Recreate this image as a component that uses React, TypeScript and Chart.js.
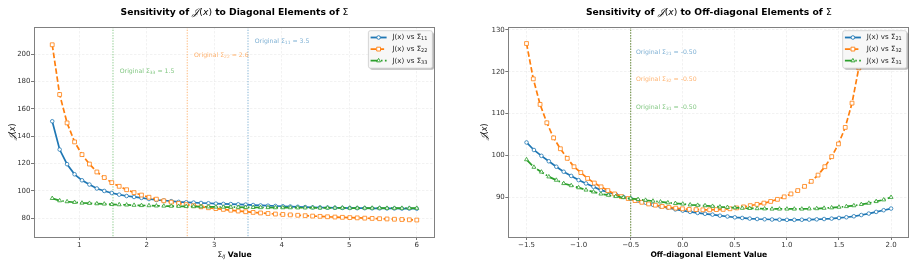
import React, { useEffect, useRef } from "react";
import { Chart, registerables } from "chart.js";
Chart.register(...registerables);

// ---------------- data ----------------
const diagX = [0.600, 0.710, 0.820, 0.931, 1.041, 1.151, 1.261, 1.371, 1.482, 1.592, 1.702, 1.812, 1.922, 2.033, 2.143, 2.253, 2.363, 2.473, 2.584, 2.694, 2.804, 2.914, 3.024, 3.135, 3.245, 3.355, 3.465, 3.576, 3.686, 3.796, 3.906, 4.016, 4.127, 4.237, 4.347, 4.457, 4.567, 4.678, 4.788, 4.898, 5.008, 5.118, 5.229, 5.339, 5.449, 5.559, 5.669, 5.780, 5.890, 6.000];
const diagJ11 = [151, 130.3, 119.6, 112.2, 107.8, 104.7, 101.8, 100.0, 98.5, 97.3, 96.3, 95.6, 94.9, 94.1, 93.4, 93.0, 92.5, 92.0, 91.7, 91.5, 91.2, 91.0, 90.7, 90.5, 90.4, 90.2, 90.0, 89.7, 89.4, 89.2, 89.0, 88.8, 88.6, 88.4, 88.2, 88.0, 87.9, 87.8, 87.7, 87.6, 87.5, 87.4, 87.4, 87.3, 87.3, 87.2, 87.2, 87.1, 87.1, 87.0];
const diagJ22 = [207, 170.6, 149.8, 135.9, 126.6, 119.7, 113.9, 109.8, 106.1, 103.4, 100.9, 98.8, 97.0, 95.4, 94.0, 92.8, 91.8, 90.9, 90.0, 89.2, 88.4, 87.7, 87.1, 86.5, 85.9, 85.3, 84.8, 84.3, 83.9, 83.5, 83.1, 82.8, 82.5, 82.2, 81.9, 81.6, 81.4, 81.1, 80.9, 80.7, 80.5, 80.3, 80.1, 79.9, 79.7, 79.5, 79.3, 79.1, 78.9, 78.7];
const diagJ33 = [94.6, 92.9, 92.2, 91.7, 91.2, 91.0, 90.7, 90.5, 90.2, 90.0, 89.8, 89.6, 89.4, 89.3, 89.1, 89.0, 88.9, 88.8, 88.7, 88.6, 88.5, 88.4, 88.3, 88.2, 88.2, 88.1, 88.0, 88.0, 87.9, 87.9, 87.8, 87.8, 87.8, 87.7, 87.7, 87.7, 87.6, 87.6, 87.6, 87.6, 87.5, 87.5, 87.5, 87.5, 87.5, 87.4, 87.4, 87.4, 87.4, 87.4];

const offX = [-1.500, -1.429, -1.357, -1.286, -1.214, -1.143, -1.071, -1.000, -0.929, -0.857, -0.786, -0.714, -0.643, -0.571, -0.500, -0.429, -0.357, -0.286, -0.214, -0.143, -0.071, 0.000, 0.071, 0.143, 0.214, 0.286, 0.357, 0.429, 0.500, 0.571, 0.643, 0.714, 0.786, 0.857, 0.929, 1.000, 1.071, 1.143, 1.214, 1.286, 1.357, 1.429, 1.500, 1.571, 1.643, 1.714, 1.786, 1.857, 1.929, 2.000];
const offX32 = [-1.500, -1.435, -1.370, -1.305, -1.240, -1.175, -1.109, -1.044, -0.979, -0.914, -0.849, -0.784, -0.719, -0.654, -0.589, -0.524, -0.458, -0.393, -0.328, -0.263, -0.198, -0.133, -0.068, -0.003, 0.062, 0.128, 0.193, 0.258, 0.323, 0.388, 0.453, 0.518, 0.583, 0.648, 0.713, 0.779, 0.844, 0.909, 0.974, 1.039, 1.104, 1.169, 1.234, 1.299, 1.364, 1.430, 1.495, 1.560, 1.625, 1.690];
const offJ21 = [103.1, 101.3, 99.9, 98.6, 97.3, 96.1, 95.1, 94.1, 93.3, 92.5, 91.7, 91.2, 90.7, 90.1, 89.7, 89.2, 88.7, 88.2, 87.8, 87.5, 87.1, 86.8, 86.5, 86.25, 86.05, 85.85, 85.6, 85.4, 85.2, 85.05, 84.9, 84.8, 84.74, 84.68, 84.64, 84.6, 84.6, 84.62, 84.66, 84.72, 84.8, 84.9, 85.05, 85.22, 85.45, 85.75, 86.1, 86.5, 86.9, 87.3];
const offJ32 = [126.75, 118.3, 112.2, 107.8, 104.2, 101.6, 99.3, 97.3, 95.9, 94.5, 93.4, 92.5, 91.6, 90.8, 90.15, 89.7, 89.2, 88.8, 88.4, 88.1, 87.8, 87.6, 87.4, 87.25, 87.1, 87.05, 87.0, 87.0, 87.05, 87.1, 87.25, 87.45, 87.7, 88.0, 88.3, 88.6, 89.0, 89.5, 90.1, 90.8, 91.6, 92.6, 93.8, 95.3, 97.3, 99.7, 102.75, 106.7, 112.5, 120.9];
const offJ31 = [99.0, 97.2, 96.05, 94.9, 94.1, 93.3, 92.8, 92.3, 91.75, 91.3, 90.8, 90.5, 90.2, 89.95, 89.7, 89.5, 89.3, 89.1, 88.9, 88.7, 88.55, 88.4, 88.2, 88.1, 88.0, 87.85, 87.7, 87.6, 87.5, 87.4, 87.35, 87.3, 87.25, 87.2, 87.2, 87.2, 87.2, 87.2, 87.25, 87.3, 87.4, 87.5, 87.65, 87.8, 88.0, 88.3, 88.6, 89.0, 89.4, 90.0];

const diagTicksX = [1, 2, 3, 4, 5, 6];
const diagTicksY = [80, 100, 120, 140, 160, 180, 200];
const offTicksX = [-1.5, -1.0, -0.5, 0.0, 0.5, 1.0, 1.5, 2.0];
const offTicksY = [90, 100, 110, 120, 130];

const diagOriginal = [3.5, 2.6, 1.5]; // Σ11, Σ22, Σ33
const offOriginal = [-0.5, -0.5, -0.5]; // Σ21, Σ32, Σ31

// ---------------- styling ----------------
const F = '"DejaVu Sans", sans-serif';
const BLUE = "#1f77b4";
const ORANGE = "#ff7f0e";
const GREEN = "#2ca02c";
const rgba = (hex: string, a: number) => {
  const n = parseInt(hex.slice(1), 16);
  return `rgba(${(n >> 16) & 255},${(n >> 8) & 255},${n & 255},${a})`;
};

type Seg = { t: string; f: string; dy?: number };

function segsWidth(ctx: CanvasRenderingContext2D, segs: Seg[]) {
  let w = 0;
  for (const s of segs) {
    ctx.font = s.f;
    w += ctx.measureText(s.t).width;
  }
  return w;
}
function drawSegs(ctx: CanvasRenderingContext2D, segs: Seg[], x: number, y: number, align: "left" | "center", color: string) {
  const w = segsWidth(ctx, segs);
  let cx = align === "center" ? x - w / 2 : x;
  ctx.textAlign = "left";
  ctx.textBaseline = "middle";
  ctx.fillStyle = color;
  for (const s of segs) {
    ctx.font = s.f;
    ctx.fillText(s.t, cx, y + (s.dy || 0));
    cx += ctx.measureText(s.t).width;
  }
}

function drawMarker(ctx: CanvasRenderingContext2D, style: string, x: number, y: number, r: number, color: string) {
  ctx.save();
  ctx.beginPath();
  if (style === "circle") {
    ctx.arc(x, y, r, 0, Math.PI * 2);
  } else if (style === "rect") {
    const s = Math.SQRT1_2 * r;
    ctx.rect(x - s, y - s, 2 * s, 2 * s);
  } else {
    ctx.moveTo(x, y - r);
    ctx.lineTo(x + Math.sin((2 * Math.PI) / 3) * r, y - Math.cos((2 * Math.PI) / 3) * r);
    ctx.lineTo(x + Math.sin((4 * Math.PI) / 3) * r, y - Math.cos((4 * Math.PI) / 3) * r);
    ctx.closePath();
  }
  ctx.fillStyle = "#ffffff";
  ctx.fill();
  ctx.lineWidth = 0.9;
  ctx.strokeStyle = color;
  ctx.setLineDash([]);
  ctx.stroke();
  ctx.restore();
}

type Series = { sub: string; x: number[]; y: number[]; color: string; dash: number[]; marker: string; r: number };
type Spec = {
  left: number;
  width: number;
  padding: { left: number; right: number; top: number; bottom: number };
  yAxisWidth: number;
  xMin: number; xMax: number; yMin: number; yMax: number;
  xTicks: number[]; yTicks: number[];
  fmtX: (v: number) => string;
  series: Series[];
  title: Seg[];
  xlabel: Seg[];
  ylabelX: number;
  originals: number[];
  annX: number[]; annY: number[]; annText: string[];
};

const mathJ = (size: number): Seg[] => [
  { t: "𝒥", f: `italic ${size + 0.8}px "DejaVu Serif", serif` },
  { t: "(", f: `${size}px ${F}` },
  { t: "x", f: `italic ${size}px ${F}` },
  { t: ")", f: `${size}px ${F}` },
];

const TS = 9.2;
const diagSpec: Spec = {
  left: 0,
  width: 458,
  padding: { left: 0, right: 23, top: 27, bottom: 0 },
  yAxisWidth: 34,
  xMin: 0.33, xMax: 6.27, yMin: 66.3, yMax: 220,
  xTicks: diagTicksX, yTicks: diagTicksY,
  fmtX: (v) => String(Math.round(v)),
  series: [
    { sub: "11", x: diagX, y: diagJ11, color: BLUE, dash: [], marker: "circle", r: 1.8 },
    { sub: "22", x: diagX, y: diagJ22, color: ORANGE, dash: [5.5, 2.5], marker: "rect", r: 2.7 },
    { sub: "33", x: diagX, y: diagJ33, color: GREEN, dash: [8, 2.4, 1.5, 2.4], marker: "triangle", r: 2.3 },
  ],
  title: [
    { t: "Sensitivity of ", f: `bold ${TS}px ${F}` },
    ...mathJ(TS),
    { t: " to Diagonal Elements of ", f: `bold ${TS}px ${F}` },
    { t: "Σ", f: `${TS}px ${F}` },
  ],
  xlabel: [
    { t: "Σ", f: `7.6px ${F}` },
    { t: "ij", f: `italic 5.4px ${F}`, dy: 1.8 },
    { t: " Value", f: `bold 7.6px ${F}` },
  ],
  ylabelX: 12.7,
  originals: diagOriginal,
  annX: [3.6, 2.7, 1.6],
  annY: [209.7, 199, 187.8],
  annText: ["3.5", "2.6", "1.5"],
};

const offSpec: Spec = {
  left: 458,
  width: 458,
  padding: { left: 0, right: 6.7, top: 27, bottom: 0 },
  yAxisWidth: 50.3,
  xMin: -1.675, xMax: 2.175, yMin: 80.5, yMax: 130.7,
  xTicks: offTicksX, yTicks: offTicksY,
  fmtX: (v) => (v < 0 ? "\u2212" : "") + Math.abs(v).toFixed(1),
  series: [
    { sub: "21", x: offX, y: offJ21, color: BLUE, dash: [], marker: "circle", r: 1.8 },
    { sub: "32", x: offX32, y: offJ32, color: ORANGE, dash: [5.5, 2.5], marker: "rect", r: 2.7 },
    { sub: "31", x: offX, y: offJ31, color: GREEN, dash: [8, 2.4, 1.5, 2.4], marker: "triangle", r: 2.3 },
  ],
  title: [
    { t: "Sensitivity of ", f: `bold ${TS}px ${F}` },
    ...mathJ(TS),
    { t: " to Off-diagonal Elements of ", f: `bold ${TS}px ${F}` },
    { t: "Σ", f: `${TS}px ${F}` },
  ],
  xlabel: [{ t: "Off-diagonal Element Value", f: `bold 7.6px ${F}` }],
  ylabelX: 26.5,
  originals: offOriginal,
  annX: [-0.45, -0.45, -0.45],
  annY: [124.7, 118.2, 111.6],
  annText: ["-0.50", "-0.50", "-0.50"],
};

function makeDecor(spec: Spec) {
  return {
    id: "decor",
    beforeDatasetsDraw(chart: any) {
      const { ctx, chartArea: a, scales } = chart;
      ctx.save();
      spec.series.forEach((s, i) => {
        const px = scales.x.getPixelForValue(spec.originals[i]);
        ctx.beginPath();
        ctx.setLineDash([1.3, 1.4]);
        ctx.lineWidth = 1;
        ctx.strokeStyle = rgba(s.color, 0.55);
        ctx.moveTo(px, a.top);
        ctx.lineTo(px, a.bottom);
        ctx.stroke();
      });
      ctx.restore();
    },
    afterDatasetsDraw(chart: any) {
      const { ctx, chartArea: a, scales } = chart;
      ctx.save();
      // annotations
      spec.series.forEach((s, i) => {
        const x = scales.x.getPixelForValue(spec.annX[i]);
        const y = scales.y.getPixelForValue(spec.annY[i]);
        drawSegs(ctx, [
          { t: "Original ", f: `6.2px ${F}` },
          { t: "Σ", f: `6.2px ${F}` },
          { t: s.sub, f: `4.4px ${F}`, dy: 1.5 },
          { t: " = " + spec.annText[i], f: `6.2px ${F}` },
        ], x, y, "left", rgba(s.color, 0.6));
      });
      // frame
      ctx.setLineDash([]);
      ctx.lineWidth = 1;
      ctx.strokeStyle = "#808080";
      ctx.strokeRect(Math.round(a.left) + 0.5, Math.round(a.top) + 0.5, Math.round(a.right - a.left) - 1, Math.round(a.bottom - a.top));
      // legend
      const bw = 64, bh = 37.5;
      const bx = a.right - 2.6 - bw, by = a.top + 3.7;
      const rr = (x: number, y: number, w: number, h: number, r: number) => {
        ctx.beginPath();
        ctx.moveTo(x + r, y);
        ctx.arcTo(x + w, y, x + w, y + h, r);
        ctx.arcTo(x + w, y + h, x, y + h, r);
        ctx.arcTo(x, y + h, x, y, r);
        ctx.arcTo(x, y, x + w, y, r);
        ctx.closePath();
      };
      rr(bx + 1.6, by + 1.6, bw, bh, 2);
      ctx.fillStyle = "rgba(0,0,0,0.28)";
      ctx.fill();
      rr(bx, by, bw, bh, 2);
      ctx.fillStyle = "#f7f7f7";
      ctx.fill();
      ctx.lineWidth = 0.8;
      ctx.strokeStyle = "#cccccc";
      ctx.stroke();
      spec.series.forEach((s, i) => {
        const y = by + 6.8 + i * 11.6;
        const x0 = bx + 2.2, x1 = bx + 18.2;
        ctx.save();
        ctx.beginPath();
        ctx.setLineDash(s.dash);
        ctx.lineWidth = 1.8;
        ctx.strokeStyle = s.color;
        ctx.moveTo(x0, y);
        ctx.lineTo(x1, y);
        ctx.stroke();
        ctx.restore();
        drawMarker(ctx, s.marker, (x0 + x1) / 2, y, s.r, s.color);
        drawSegs(ctx, [
          { t: "J(x) vs ", f: `7.1px ${F}` },
          { t: "Σ", f: `7.1px ${F}` },
          { t: s.sub, f: `5px ${F}`, dy: 1.7 },
        ], bx + 24, y, "left", "#222222");
      });
      ctx.restore();
    },
    afterDraw(chart: any) {
      const { ctx, chartArea: a } = chart;
      ctx.save();
      const cx = (a.left + a.right) / 2;
      drawSegs(ctx, spec.title, cx, 12.7, "center", "#000000");
      drawSegs(ctx, spec.xlabel, cx, 254.7, "center", "#000000");
      ctx.translate(spec.ylabelX, (a.top + a.bottom) / 2);
      ctx.rotate(-Math.PI / 2);
      drawSegs(ctx, mathJ(8), 0, 0, "center", "#000000");
      ctx.restore();
    },
  };
}

function ChartPanel({ spec }: { spec: Spec }) {
  const ref = useRef<HTMLCanvasElement | null>(null);
  useEffect(() => {
    const canvas = ref.current!;
    const axisCommon = {
      type: "linear" as const,
      bounds: "data" as const,
      grid: {
        color: "rgba(0,0,0,0.09)",
        lineWidth: 0.6,
        drawTicks: true,
        tickLength: 3,
        tickColor: "#555555",
        tickWidth: 0.8,
        tickBorderDash: [],
      },
      border: { display: false, dash: [2.5, 1.5] },
    };
    const chart = new Chart(canvas, {
      type: "line",
      data: {
        datasets: spec.series.map((s, k) => ({
          label: "J(x) vs Σ" + s.sub,
          data: s.x.map((x, i) => ({ x, y: s.y[i] })),
          borderColor: s.color,
          backgroundColor: s.color,
          borderWidth: 1.7,
          borderDash: s.dash,
          pointStyle: s.marker,
          pointRadius: s.r,
          pointBorderWidth: 0.8,
          pointBackgroundColor: "#ffffff",
          pointBorderColor: s.color,
          tension: 0,
          fill: false,
          order: 3 - k,
        })),
      },
      options: {
        animation: false,
        responsive: false,
        devicePixelRatio: 1,
        events: [],
        layout: { padding: spec.padding },
        plugins: { legend: { display: false }, tooltip: { enabled: false }, title: { display: false } },
        scales: {
          x: {
            ...axisCommon,
            min: spec.xMin,
            max: spec.xMax,
            afterBuildTicks: (sc: any) => {
              sc.ticks = spec.xTicks.map((v) => ({ value: v }));
            },
            afterFit: (sc: any) => {
              sc.height = 29;
            },
            ticks: {
              autoSkip: false,
              maxRotation: 0,
              minRotation: 0,
              padding: 1,
              color: "#333333",
              font: { family: "DejaVu Sans", size: 7 },
              callback: (v: any) => spec.fmtX(Number(v)),
            },
          },
          y: {
            ...axisCommon,
            min: spec.yMin,
            max: spec.yMax,
            afterBuildTicks: (sc: any) => {
              sc.ticks = spec.yTicks.map((v) => ({ value: v }));
            },
            afterFit: (sc: any) => {
              sc.width = spec.yAxisWidth;
            },
            ticks: {
              autoSkip: false,
              padding: 0.5,
              color: "#333333",
              font: { family: "DejaVu Sans", size: 7 },
              callback: (v: any) => String(Math.round(Number(v))),
            },
          },
        },
      } as any,
      plugins: [makeDecor(spec)],
    });
    return () => chart.destroy();
  }, [spec]);
  return (
    <canvas
      ref={ref}
      width={spec.width}
      height={266}
      style={{ position: "absolute", left: spec.left, top: 0, width: spec.width, height: 266 }}
    />
  );
}

export default function App() {
  return (
    <div style={{ position: "fixed", left: 0, top: 0, width: 916, height: 266, background: "#ffffff", overflow: "hidden" }}>
      <ChartPanel spec={diagSpec} />
      <ChartPanel spec={offSpec} />
    </div>
  );
}
